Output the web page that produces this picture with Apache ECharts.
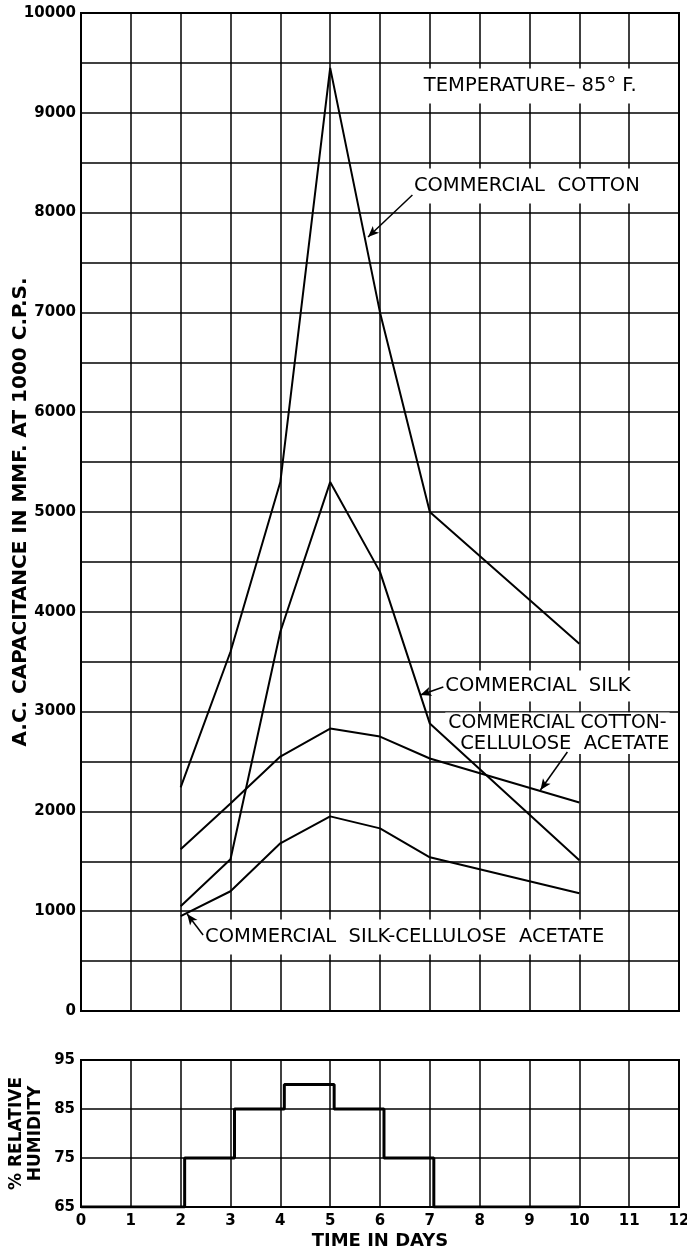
<!DOCTYPE html>
<html><head><meta charset="utf-8">
<script src="https://cdn.jsdelivr.net/npm/echarts@6/dist/echarts.min.js"></script>
<style>html,body{margin:0;padding:0;background:#fff}#c{width:687px;height:1253px}</style>
</head><body><div id="c"></div>
<script>
// ---- data ----
const days = [2, 3, 4, 5, 6, 7, 10];
const cotton = [2240, 3600, 5300, 9450, 7000, 5000, 3680];
const silk = [1050, 1520, 3800, 5300, 4400, 2880, 1510];
const cottonAcetate = [1620, 2080, 2550, 2830, 2750, 2530, 2090];
const silkAcetate = [950, 1200, 1680, 1950, 1830, 1540, 1180];
const humidityDays = [0, 2.08, 3.08, 4.08, 5.08, 6.08, 7.08, 10];
const humidity = [65, 75, 85, 90, 85, 75, 65, 65];
const capTitle = 'A.C. CAPACITANCE IN MMF. AT 1000 C.P.S.';
const humTitle = '% RELATIVE\nHUMIDITY';
const timeTitle = 'TIME IN DAYS';

const FF = '"DejaVu Sans", "Liberation Sans", sans-serif';
const K = '#000';
const chart = echarts.init(document.getElementById('c'), null, {renderer: 'canvas'});

function arrow(from, to) {
  return {
    silent: true, animation: false,
    symbol: ['none', 'arrow'], symbolSize: [7, 11],
    label: {show: false}, emphasis: {disabled: true},
    lineStyle: {color: K, width: 1.5, type: 'solid'},
    data: [[{coord: from}, {coord: to}]]
  };
}
function lineSeries(name, vals, mk) {
  return {
    name, type: 'line', xAxisIndex: 0, yAxisIndex: 0,
    data: days.map((d, i) => [d, vals[i]]),
    symbol: 'none', showSymbol: false, animation: false, silent: true,
    lineStyle: {color: K, width: 2}, z: 3,
    markLine: mk
  };
}
const gridLine = {show: true, lineStyle: {color: K, width: 1.5}};
const tickLabel = {color: K, fontSize: 15, fontWeight: 'bold', fontFamily: FF};

chart.setOption({
  backgroundColor: '#fff',
  animation: false,
  grid: [
    {left: 81, right: 8, top: 13, height: 998, show: true, borderColor: K, borderWidth: 2,
     backgroundColor: 'transparent', containLabel: false, outerBoundsMode: 'none'},
    {left: 81, right: 8, top: 1060, height: 147, show: true, borderColor: K, borderWidth: 2,
     backgroundColor: 'transparent', containLabel: false, outerBoundsMode: 'none'}
  ],
  xAxis: [
    {gridIndex: 0, type: 'value', min: 0, max: 12, interval: 1,
     axisLine: {show: false}, axisTick: {show: false}, axisLabel: {show: false}, splitLine: gridLine},
    {gridIndex: 1, type: 'value', min: 0, max: 12, interval: 1,
     axisLine: {show: false}, axisTick: {show: false},
     axisLabel: Object.assign({margin: 7}, tickLabel),
     splitLine: gridLine,
     name: timeTitle, nameLocation: 'middle', nameGap: 25, nameMoveOverlap: false,
     nameTextStyle: {color: K, fontSize: 18, fontWeight: 'bold', fontFamily: FF, lineHeight: 18}}
  ],
  yAxis: [
    {gridIndex: 0, type: 'value', min: 0, max: 10000, interval: 500,
     axisLine: {show: false}, axisTick: {show: false},
     axisLabel: Object.assign({margin: 5, formatter: v => (v % 1000 === 0 ? String(v) : '')}, tickLabel),
     splitLine: gridLine,
     name: capTitle, nameLocation: 'middle', nameGap: 50, nameRotate: 90, nameMoveOverlap: false,
     nameTextStyle: {color: K, fontSize: 20, fontWeight: 'bold', fontFamily: FF, lineHeight: 20}},
    {gridIndex: 1, type: 'value', min: 65, max: 95, interval: 10,
     axisLine: {show: false}, axisTick: {show: false},
     axisLabel: Object.assign({margin: 6}, tickLabel),
     splitLine: gridLine,
     name: humTitle, nameLocation: 'middle', nameGap: 36, nameRotate: 90, nameMoveOverlap: false,
     nameTextStyle: {color: K, fontSize: 17, fontWeight: 'bold', fontFamily: FF, lineHeight: 19}}
  ],
  series: [
    lineSeries('Commercial Cotton', cotton, arrow([6.65, 8176], [5.76, 7756])),
    lineSeries('Commercial Silk', silk, arrow([7.27, 3247], [6.81, 3166])),
    lineSeries('Commercial Cotton-Cellulose Acetate', cottonAcetate, arrow([9.76, 2595], [9.22, 2214])),
    lineSeries('Commercial Silk-Cellulose Acetate', silkAcetate, arrow([2.45, 762], [2.13, 972])),
    {name: 'Relative Humidity', type: 'line', xAxisIndex: 1, yAxisIndex: 1,
     data: humidityDays.map((d, i) => [d, humidity[i]]), step: 'end',
     symbol: 'none', showSymbol: false, animation: false, silent: true,
     lineStyle: {color: K, width: 3}, z: 3}
  ]
});

// annotation labels, anchored in data space of the top grid
const notes = [
  {text: 'TEMPERATURE\u2013 85\u00b0 F.', at: [6.82, 9269], pad: [7, 3], size: 19.5},
  {text: 'COMMERCIAL  COTTON', at: [6.62, 8267], pad: [7, 3], size: 19.5},
  {text: 'COMMERCIAL  SILK', at: [7.25, 3257], pad: [5, 3], size: 19.5},
  {text: 'COMMERCIAL COTTON-', at: [7.31, 2885], pad: [0, 3], size: 18.8},
  {text: 'CELLULOSE  ACETATE', at: [7.55, 2680], pad: [0, 3], size: 19.5},
  {text: 'COMMERCIAL  SILK-CELLULOSE  ACETATE', at: [2.43, 741], pad: [7, 3], size: 19.5}
];
chart.setOption({
  graphic: notes.map(n => {
    const p = chart.convertToPixel({gridIndex: 0}, n.at);
    return {type: 'text', x: p[0], y: p[1], z: 1, silent: true,
      style: {text: n.text, fill: K, font: n.size + 'px ' + FF, align: 'left', verticalAlign: 'middle',
              lineHeight: 21, backgroundColor: '#fff', padding: n.pad}};
  })
});
</script></body></html>
